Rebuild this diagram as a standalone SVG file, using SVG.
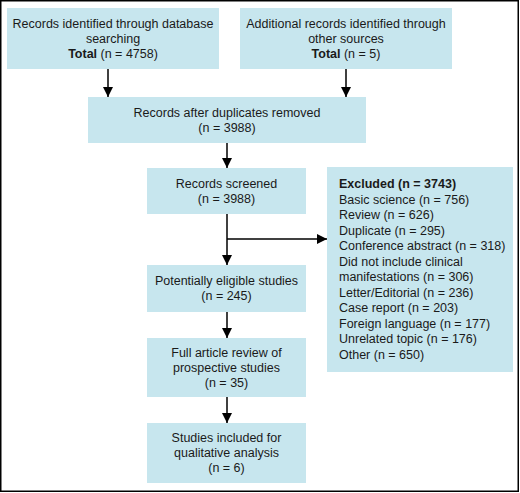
<svg xmlns="http://www.w3.org/2000/svg" width="520" height="493" viewBox="0 0 520 493">
<defs>
<style>
.box{fill:#c7e6ee;stroke:none}
.t{font-family:"Liberation Sans",Arial,sans-serif;font-size:12.5px;fill:#1a1a1a}
.c{text-anchor:middle}
.b{font-weight:bold}
.ln{stroke:#000;stroke-width:1.5;fill:none}
</style>
<marker id="ah" markerWidth="10" markerHeight="10" viewBox="0 0 10 10" refX="10" refY="5" orient="auto" markerUnits="userSpaceOnUse">
<path d="M0,0 L10,5 L0,10 Z" fill="#000"/>
</marker>
</defs>
<rect x="0.75" y="0.75" width="517.5" height="490.5" fill="#fff" stroke="#000" stroke-width="1.5"/>
<g id="n1">
<rect class="box" x="7" y="8" width="212" height="61"/>
<text class="t c" x="113" y="27.5">Records identified through database</text>
<text class="t c" x="113" y="42.5">searching</text>
<text class="t c" x="113" y="57.5"><tspan class="b">Total</tspan> (n = 4758)</text>
</g>
<g id="n2">
<rect class="box" x="240" y="8" width="212" height="61"/>
<text class="t c" x="346" y="27.5">Additional records identified through</text>
<text class="t c" x="346" y="42.5">other sources</text>
<text class="t c" x="346" y="57.5"><tspan class="b">Total</tspan> (n = 5)</text>
</g>
<g id="n3">
<rect class="box" x="88" y="97" width="278" height="46"/>
<text class="t c" x="227" y="117">Records after duplicates removed</text>
<text class="t c" x="227" y="132">(n = 3988)</text>
</g>
<g id="n4">
<rect class="box" x="147" y="168" width="159" height="46"/>
<text class="t c" x="226.5" y="187.5">Records screened</text>
<text class="t c" x="226.5" y="202.5">(n = 3988)</text>
</g>
<g id="n5">
<rect class="box" x="147" y="265" width="159" height="47"/>
<text class="t c" x="226.5" y="285">Potentially eligible studies</text>
<text class="t c" x="226.5" y="300">(n = 245)</text>
</g>
<g id="n6">
<rect class="box" x="147" y="338" width="159" height="59"/>
<text class="t c" x="226.5" y="356.5">Full article review of</text>
<text class="t c" x="226.5" y="371.5">prospective studies</text>
<text class="t c" x="226.5" y="386.5">(n = 35)</text>
</g>
<g id="n7">
<rect class="box" x="147" y="423" width="159" height="60"/>
<text class="t c" x="226.5" y="442">Studies included for</text>
<text class="t c" x="226.5" y="457">qualitative analysis</text>
<text class="t c" x="226.5" y="472">(n = 6)</text>
</g>
<g id="n8">
<rect class="box" x="327" y="167" width="186" height="205"/>
<text class="t b" x="339" y="188">Excluded (n = 3743)</text>
<text class="t" x="339" y="203.5">Basic science (n = 756)</text>
<text class="t" x="339" y="219">Review (n = 626)</text>
<text class="t" x="339" y="234.5">Duplicate (n = 295)</text>
<text class="t" x="339" y="250">Conference abstract (n = 318)</text>
<text class="t" x="339" y="265.5">Did not include clinical</text>
<text class="t" x="339" y="281">manifestations (n = 306)</text>
<text class="t" x="339" y="296.5">Letter/Editorial (n = 236)</text>
<text class="t" x="339" y="312">Case report (n = 203)</text>
<text class="t" x="339" y="327.5">Foreign language (n = 177)</text>
<text class="t" x="339" y="343">Unrelated topic (n = 176)</text>
<text class="t" x="339" y="358.5">Other (n = 650)</text>
</g>
<g id="connectors">
<line class="ln" x1="108" y1="69" x2="108" y2="97" marker-end="url(#ah)"/>
<line class="ln" x1="346" y1="69" x2="346" y2="97" marker-end="url(#ah)"/>
<line class="ln" x1="227" y1="143" x2="227" y2="168" marker-end="url(#ah)"/>
<line class="ln" x1="227" y1="214" x2="227" y2="265" marker-end="url(#ah)"/>
<line class="ln" x1="227" y1="239" x2="327" y2="239" marker-end="url(#ah)"/>
<line class="ln" x1="227" y1="312" x2="227" y2="338" marker-end="url(#ah)"/>
<line class="ln" x1="227" y1="397" x2="227" y2="423" marker-end="url(#ah)"/>
</g>
</svg>
